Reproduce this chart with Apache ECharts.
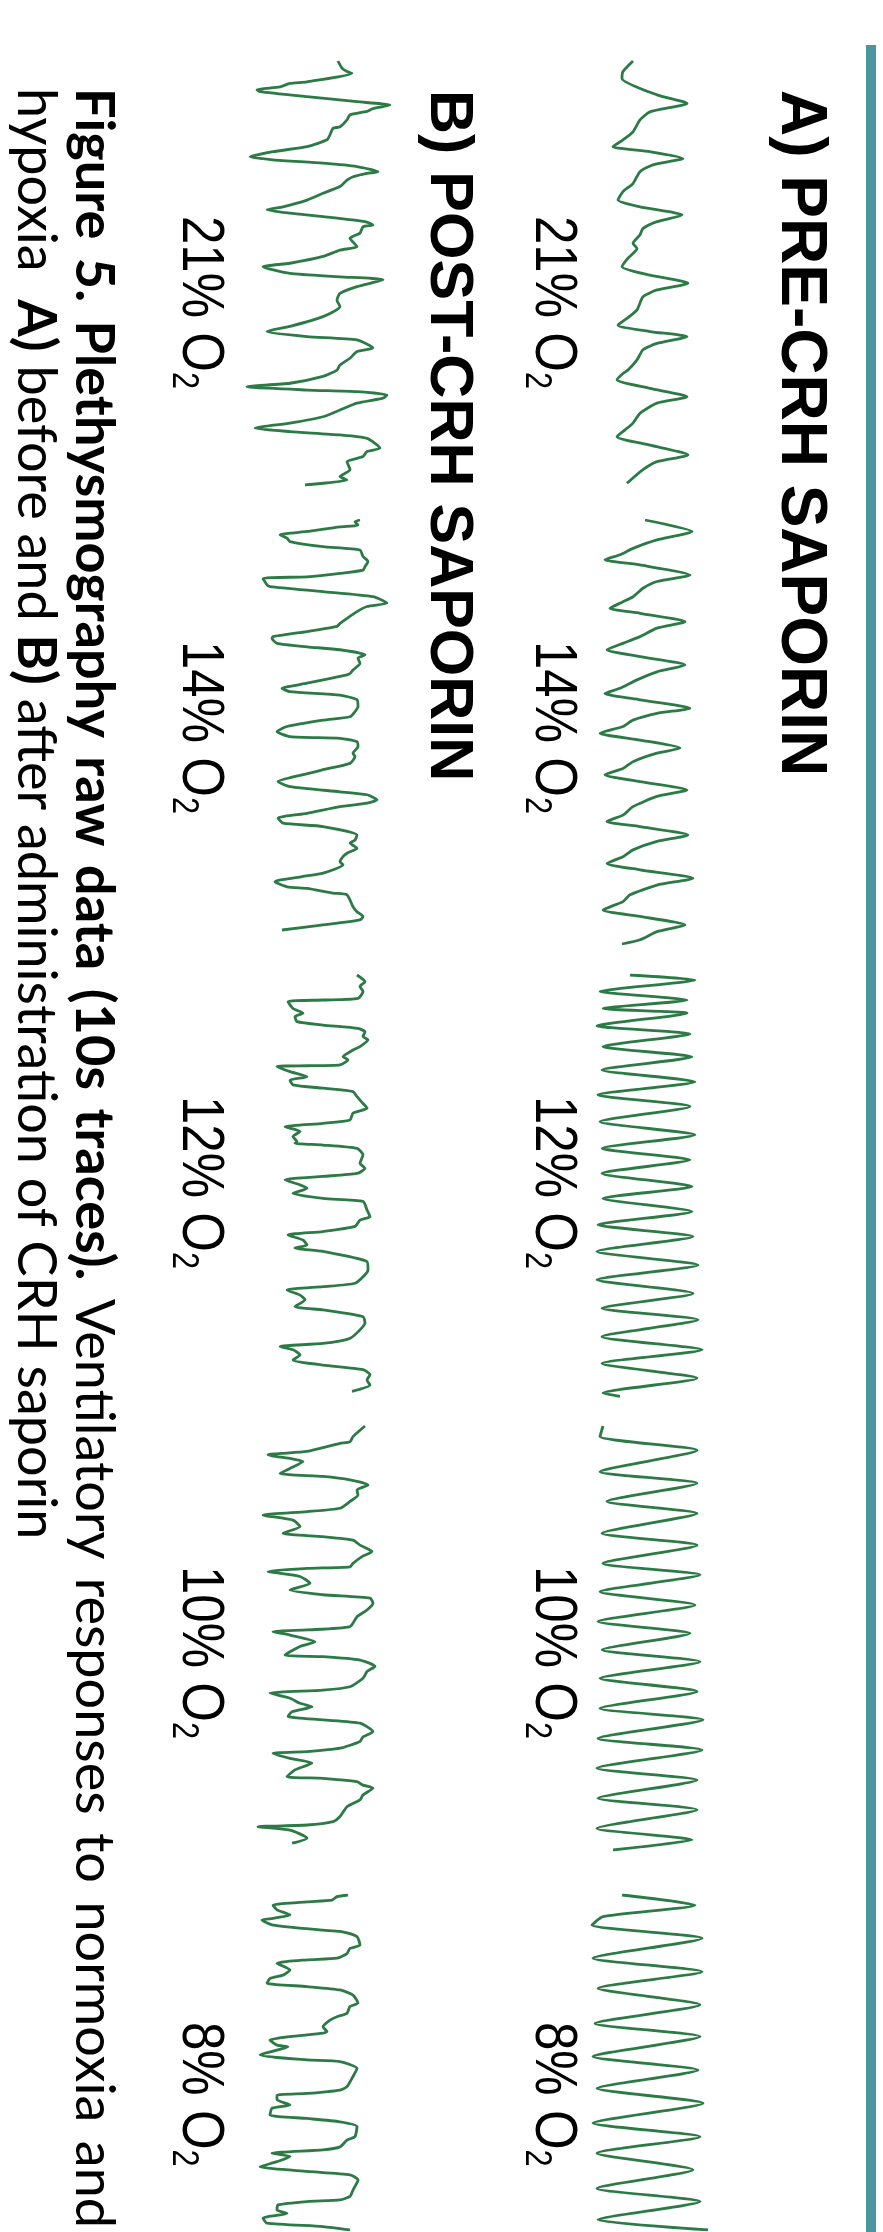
<!DOCTYPE html>
<html>
<head>
<meta charset="utf-8">
<script src="https://cdn.jsdelivr.net/npm/echarts@6/dist/echarts.min.js"></script>
<style>
  html, body { margin: 0; padding: 0; background: #ffffff; }
  #chart { width: 883px; height: 2232px; }
</style>
</head>
<body>
<div id="chart"></div>
<script>
// Oxygen level of each 10 s recording (same order in both panels)
const o2Levels = ['21', '14', '12', '10', '8'];

// Panel A — before CRH saporin. Points are [time (s), flow (a.u.)]
const pre21 = [[0,43],[0.25,33],[0.41,32],[0.80,67],[1.00,97],[1.20,60],[1.39,50],[1.67,43],[1.86,33],[2.02,23],[2.14,60],[2.30,93],[2.45,63],[2.61,50],[2.89,43],[3.08,33],[3.28,28],[3.44,50],[3.63,92],[3.79,67],[3.95,53],[4.10,50],[4.30,43],[4.42,47],[4.65,38],[4.85,32],[5.05,60],[5.24,98],[5.40,67],[5.56,53],[5.87,47],[6.07,37],[6.23,28],[6.38,60],[6.50,97],[6.66,67],[6.81,53],[7.05,47],[7.29,38],[7.37,33],[7.52,27],[7.72,60],[7.92,97],[8.07,67],[8.31,50],[8.54,43],[8.70,35],[8.86,27],[9.06,60],[9.29,98],[9.45,67],[9.64,53],[9.96,37]];
const pre14 = [[0,55],[0.27,102],[0.47,67],[0.67,43],[0.82,30],[0.94,15],[1.06,50],[1.30,100],[1.45,67],[1.61,53],[1.81,43],[1.93,33],[2.08,20],[2.20,50],[2.40,95],[2.55,67],[2.75,50],[2.91,33],[3.06,17],[3.22,50],[3.42,95],[3.58,67],[3.77,47],[3.97,30],[4.09,15],[4.24,50],[4.44,100],[4.56,67],[4.72,43],[4.87,33],[5.03,10],[5.19,50],[5.38,90],[5.50,67],[5.70,43],[5.86,33],[6.01,15],[6.17,50],[6.37,97],[6.52,67],[6.76,43],[6.96,33],[7.11,17],[7.23,50],[7.43,98],[7.58,67],[7.78,43],[7.94,33],[8.10,17],[8.25,50],[8.45,103],[8.61,67],[8.84,40],[9.00,33],[9.20,13],[9.35,50],[9.55,95],[9.71,67],[9.90,50],[10.0,32]];
const pre12 = [[0,40],[0.12,105],[0.39,10],[0.59,97],[0.79,13],[0.90,97],[1.20,7],[1.39,100],[1.69,13],[1.93,102],[2.24,12],[2.52,105],[2.83,8],[3.10,100],[3.46,10],[3.77,105],[4.09,12],[4.36,100],[4.68,12],[4.99,102],[5.27,13],[5.58,102],[5.89,8],[6.17,103],[6.52,7],[6.84,108],[7.19,7],[7.51,103],[7.86,12],[8.13,108],[8.53,12],[8.84,112],[9.16,12],[9.51,107],[9.86,13],[9.94,30]];
const pre10 = [[0,13],[0.25,10],[0.57,107],[1.08,10],[1.35,107],[1.78,17],[2.06,107],[2.53,12],[2.81,107],[3.24,13],[3.51,110],[3.91,10],[4.22,105],[4.61,8],[4.89,100],[5.28,12],[5.56,110],[5.95,10],[6.26,107],[6.66,10],[6.93,113],[7.37,8],[7.64,112],[8.07,7],[8.35,107],[8.78,8],[9.05,107],[9.49,7],[9.76,102],[10.0,23]];
const pre8 = [[0,32],[0.24,105],[0.51,13],[0.71,2],[1.02,112],[1.49,3],[1.81,112],[2.20,8],[2.59,110],[3.03,5],[3.34,110],[3.81,3],[4.13,108],[4.56,7],[4.91,113],[5.38,3],[5.70,110],[6.09,7],[6.48,103],[6.92,7],[7.23,110],[7.66,8],[7.90,118]];

// Panel B — after CRH saporin
const post21 = [[0,98],[0.17,102],[0.25,107],[0.29,112],[0.49,67],[0.53,50],[0.61,40],[0.68,17],[0.72,20],[0.84,67],[0.96,117],[1.04,150],[1.12,133],[1.19,127],[1.27,110],[1.39,107],[1.55,100],[1.59,93],[1.74,90],[1.86,87],[2.02,67],[2.14,33],[2.26,10],[2.33,33],[2.41,83],[2.49,117],[2.61,138],[2.65,127],[2.73,113],[2.81,107],[2.96,100],[3.12,83],[3.28,67],[3.44,43],[3.51,27],[3.59,50],[3.67,83],[3.79,125],[3.87,133],[3.91,123],[4.06,120],[4.18,110],[4.38,117],[4.46,100],[4.61,83],[4.77,50],[4.85,23],[5.01,50],[5.09,100],[5.16,143],[5.32,117],[5.48,100],[5.64,97],[5.79,100],[6.03,83],[6.26,50],[6.38,27],[6.50,67],[6.58,117],[6.77,133],[6.85,117],[7.01,110],[7.17,100],[7.29,97],[7.44,83],[7.60,50],[7.68,7],[7.76,67],[7.80,117],[7.88,147],[7.95,143],[8.07,117],[8.23,100],[8.39,83],[8.54,50],[8.66,15],[8.74,50],[8.82,100],[8.90,127],[9.13,140],[9.21,127],[9.33,123],[9.45,107],[9.64,110],[9.80,100],[9.88,107],[10.0,65]];
const post14 = [[0,120],[0.04,115],[0.12,118],[0.16,100],[0.27,67],[0.35,40],[0.43,47],[0.51,50],[0.63,83],[0.71,120],[0.86,123],[0.98,128],[1.10,125],[1.18,123],[1.26,100],[1.34,67],[1.38,23],[1.53,27],[1.57,30],[1.69,83],[1.81,133],[1.96,147],[2.04,127],[2.16,117],[2.32,107],[2.44,100],[2.51,97],[2.63,67],[2.75,33],[2.79,32],[2.91,37],[2.99,67],[3.06,100],[3.18,125],[3.26,118],[3.38,120],[3.54,113],[3.62,110],[3.65,107],[3.85,67],[3.97,42],[4.05,50],[4.13,100],[4.24,117],[4.40,118],[4.52,115],[4.64,110],[4.72,83],[4.87,47],[4.99,37],[5.11,50],[5.15,100],[5.23,117],[5.34,118],[5.50,113],[5.58,115],[5.74,110],[5.89,83],[6.01,62],[6.17,38],[6.29,50],[6.41,100],[6.48,127],[6.60,137],[6.68,127],[6.76,100],[6.92,67],[7.03,38],[7.15,43],[7.23,83],[7.43,117],[7.55,115],[7.62,110],[7.74,117],[7.86,107],[7.94,103],[8.06,100],[8.13,103],[8.33,83],[8.41,62],[8.53,35],[8.65,47],[8.69,67],[8.80,93],[8.84,107],[9.12,113],[9.24,117],[9.35,123],[9.43,120],[9.55,83],[9.67,42]];
const post12 = [[0,117],[0.16,125],[0.27,120],[0.39,123],[0.55,118],[0.59,83],[0.63,48],[0.79,53],[0.90,63],[0.98,55],[1.10,57],[1.18,83],[1.26,118],[1.34,125],[1.45,123],[1.53,128],[1.69,120],[1.77,113],[1.93,103],[2.00,108],[2.12,100],[2.14,67],[2.16,37],[2.28,50],[2.40,67],[2.48,50],[2.59,53],[2.67,83],[2.75,113],[2.87,117],[3.03,123],[3.14,127],[3.26,113],[3.42,110],[3.50,83],[3.58,45],[3.69,60],[3.81,53],[3.93,57],[3.97,55],[4.01,83],[4.09,117],[4.24,123],[4.44,120],[4.56,125],[4.68,117],[4.75,83],[4.83,45],[4.95,60],[5.03,67],[5.15,53],[5.27,83],[5.34,123],[5.54,127],[5.70,130],[5.78,120],[5.93,115],[6.05,83],[6.13,48],[6.25,63],[6.37,67],[6.44,55],[6.52,83],[6.76,127],[6.96,128],[7.07,125],[7.27,115],[7.35,83],[7.43,47],[7.55,60],[7.66,65],[7.82,55],[7.90,83],[8.06,123],[8.21,125],[8.37,120],[8.57,110],[8.69,83],[8.76,40],[8.84,53],[8.96,60],[9.08,53],[9.20,83],[9.31,123],[9.43,130],[9.55,127],[9.67,130],[9.82,112]];
const post10 = [[0,125],[0.25,113],[0.37,110],[0.41,100],[0.60,67],[0.68,28],[0.84,63],[1.00,50],[1.12,40],[1.19,83],[1.27,110],[1.39,128],[1.51,117],[1.63,118],[1.78,110],[1.94,100],[2.02,67],[2.10,23],[2.22,53],[2.37,60],[2.53,43],[2.61,83],[2.69,113],[2.81,120],[2.96,132],[3.08,122],[3.24,113],[3.32,110],[3.36,67],[3.43,28],[3.55,60],[3.71,70],[3.87,50],[3.98,83],[4.06,130],[4.18,133],[4.34,127],[4.50,117],[4.73,110],[4.81,67],[4.85,33],[4.93,50],[5.09,75],[5.20,60],[5.40,45],[5.44,83],[5.52,120],[5.67,135],[5.79,127],[5.95,123],[6.15,110],[6.23,83],[6.30,30],[6.42,50],[6.54,60],[6.62,72],[6.74,52],[6.85,48],[6.93,83],[7.01,120],[7.21,133],[7.33,123],[7.44,120],[7.60,100],[7.68,67],[7.72,33],[7.84,50],[7.95,72],[8.11,55],[8.27,47],[8.31,83],[8.39,117],[8.47,123],[8.54,133],[8.70,123],[8.82,120],[8.98,107],[9.21,100],[9.33,93],[9.41,67],[9.45,18],[9.53,50],[9.72,67],[9.84,52]];
const post8 = [[0,108],[0.04,97],[0.12,92],[0.16,67],[0.24,33],[0.35,37],[0.47,50],[0.55,33],[0.59,22],[0.71,33],[0.83,83],[0.86,100],[0.98,117],[1.18,120],[1.26,110],[1.38,107],[1.49,97],[1.53,67],[1.61,37],[1.77,50],[1.89,43],[1.97,30],[2.08,27],[2.16,67],[2.24,100],[2.36,113],[2.55,118],[2.63,110],[2.79,107],[2.87,97],[2.95,90],[3.11,83],[3.22,87],[3.26,83],[3.34,50],[3.42,30],[3.54,37],[3.58,48],[3.77,20],[3.89,67],[3.93,100],[4.09,117],[4.28,113],[4.52,107],[4.60,100],[4.68,67],[4.72,37],[4.83,37],[4.95,50],[5.03,32],[5.19,30],[5.27,67],[5.35,100],[5.46,117],[5.70,115],[5.78,107],[5.94,100],[6.01,83],[6.09,32],[6.17,50],[6.29,37],[6.41,20],[6.52,67],[6.60,110],[6.72,118],[6.96,113],[7.11,110],[7.19,100],[7.23,67],[7.31,38],[7.43,37],[7.51,47],[7.62,23],[7.74,27],[7.82,83],[7.90,110]];

const preTraces = [pre21, pre14, pre12, pre10, pre8];
const postTraces = [post21, post14, post12, post10, post8];

// Caption text
const captionBold = 'Figure 5. Plethysmography raw data (10s traces).';
const captionRest = 'Ventilatory responses to normoxia and';
const captionLine2 = [['r', 'hypoxia  '], ['b', 'A)'], ['r', ' before and '], ['b', 'B)'], ['r', ' after administration of CRH saporin']];

// Page layout (the whole figure is laid out rotated a quarter turn clockwise)
const PAGE_H = 2232;
const TRACE_COLOR = '#2c7a45';
const SEG_TOPS = [61, 520, 975, 1426, 1895];   // where each 10 s window begins
const SEG_LEN = 424;                           // pixels per 10 s window
const SEG_SECONDS = 10;
const LABEL_TOPS = [216, 641, 1096, 1566, 2022];
const panels = [
  { title: 'A) PRE-CRH SAPORIN',  traces: preTraces,  left: 590, width: 130, max: 130,
    titleX: 800, titleSize: 64, labelX: 553 },
  { title: 'B) POST-CRH SAPORIN', traces: postTraces, left: 240, width: 150, max: 150,
    titleX: 448, titleSize: 61, labelX: 200 }
];

const grids = [], xAxes = [], yAxes = [], series = [];
panels.forEach((p) => {
  p.traces.forEach((trace, i) => {
    const idx = grids.length;
    // the last window runs past the page edge: keep only the visible part of its time axis
    const h = Math.min(SEG_LEN, PAGE_H - SEG_TOPS[i]);
    const tMax = SEG_SECONDS * h / SEG_LEN;
    grids.push({ left: p.left, width: p.width, top: SEG_TOPS[i], height: h, containLabel: false });
    xAxes.push({ type: 'value', gridIndex: idx, min: 0, max: p.max, show: false });
    yAxes.push({ type: 'value', gridIndex: idx, min: 0, max: tMax, inverse: true, show: false });
    series.push({
      type: 'line', xAxisIndex: idx, yAxisIndex: idx,
      data: trace.map(([t, v]) => [v, t]),
      showSymbol: false, smooth: 0.2, clip: true,
      lineStyle: { color: TRACE_COLOR, width: 2.8, join: 'round' },
      emphasis: { disabled: true }
    });
  });
});

const ROT = -Math.PI / 2;
const SANS = '"Liberation Sans", Arial, sans-serif';
const graphics = [];
// teal rule along the right edge
graphics.push({ type: 'rect', shape: { x: 866, y: 45, width: 10, height: PAGE_H - 45 }, style: { fill: '#4b979f' } });

panels.forEach((p) => {
  graphics.push({
    type: 'text', x: p.titleX, y: 90, rotation: ROT,
    style: { text: p.title, fontFamily: SANS, fontWeight: 'bold', fontSize: p.titleSize,
             fill: '#000', align: 'left', verticalAlign: 'middle' }
  });
  o2Levels.forEach((lv, i) => {
    graphics.push({
      type: 'text', x: p.labelX, y: LABEL_TOPS[i], rotation: ROT, scaleX: 0.85,
      style: {
        text: '{n|' + lv + '% O}{s|2}', align: 'left', verticalAlign: 'middle',
        rich: {
          n: { fontFamily: SANS, fontSize: 60, lineHeight: 70, fill: '#000' },
          s: { fontFamily: SANS, fontSize: 36, lineHeight: 36, fill: '#000', verticalAlign: 'bottom' }
        }
      }
    });
  });
});

// figure caption: first line justified to the full page length, second line set ragged
const CAP_FONT = 'Lato, "Open Sans", sans-serif';
const CAP_SIZE = 54;
const CAP_START = 88, CAP_END = 2228;
const measureCtx = document.createElement('canvas').getContext('2d');
function wordWidth(word, bold) {
  measureCtx.font = (bold ? 'bold ' : '') + CAP_SIZE + 'px ' + CAP_FONT;
  return measureCtx.measureText(word).width;
}
const line1Words = captionBold.split(' ').map((w) => ({ w, bold: true }))
  .concat(captionRest.split(' ').map((w) => ({ w, bold: false })));
const wordsTotal = line1Words.reduce((s, o) => s + wordWidth(o.w, o.bold), 0);
const gap = (CAP_END - CAP_START - wordsTotal) / (line1Words.length - 1);
let cursor = CAP_START;
line1Words.forEach((o) => {
  graphics.push({
    type: 'text', x: 93, y: cursor, rotation: ROT,
    style: { text: o.w, fontFamily: CAP_FONT, fontWeight: o.bold ? 'bold' : 'normal', fontSize: CAP_SIZE,
             fill: '#000', align: 'left', verticalAlign: 'middle' }
  });
  cursor += wordWidth(o.w, o.bold) + gap;
});
graphics.push({
  type: 'text', x: 35, y: CAP_START, rotation: ROT,
  style: {
    text: captionLine2.map(([k, s]) => '{' + k + '|' + s + '}').join(''),
    align: 'left', verticalAlign: 'middle',
    rich: {
      b: { fontFamily: CAP_FONT, fontWeight: 'bold', fontSize: CAP_SIZE, fill: '#000' },
      r: { fontFamily: CAP_FONT, fontSize: CAP_SIZE, fill: '#000' }
    }
  }
});

const chart = echarts.init(document.getElementById('chart'), null, { renderer: 'canvas' });
chart.setOption({
  animation: false,
  backgroundColor: '#ffffff',
  grid: grids,
  xAxis: xAxes,
  yAxis: yAxes,
  series: series,
  graphic: { elements: graphics }
});
</script>
</body>
</html>
